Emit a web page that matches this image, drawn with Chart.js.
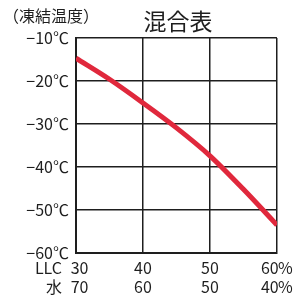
<!DOCTYPE html>
<html>
<head>
<meta charset="utf-8">
<script src="https://cdn.jsdelivr.net/npm/chart.js@4"></script>
<style>
  html, body { margin: 0; padding: 0; background: #fff; }
  #wrap { width: 298px; height: 297px; }
</style>
</head>
<body>
<div id="wrap"><canvas id="chart" width="298" height="297"></canvas></div>
<script>
// LLC concentration (%) and freezing temperature
const llcPercent = [30, 35, 40, 45, 50, 55, 60];
const freezeTemp = [-14.7, -19.6, -25.1, -30.9, -37.4, -45.2, -53.5];
const xTicks = [30, 40, 50, 60];
const yTicks = [-10, -20, -30, -40, -50, -60];

const FONT = '"Noto Sans CJK JP", "Noto Sans", sans-serif';
const INK = '#1e1e1e';

// extra text: title, unit label, row names and % signs
const labelsPlugin = {
    id: 'labels',
    afterDraw(chart) {
        const ctx = chart.ctx;
        const x = chart.scales.x;
        ctx.save();
        ctx.fillStyle = INK;
        ctx.textBaseline = 'middle';

        ctx.font = '16px ' + FONT;
        ctx.textAlign = 'left';
        ctx.fillText('（凍結温度）', 3, 16);

        ctx.font = '23px ' + FONT;
        ctx.textAlign = 'center';
        ctx.fillText('混合表', 178, 21);

        ctx.font = '16px ' + FONT;
        ctx.textAlign = 'right';
        ctx.fillText('LLC', 62, 268);
        ctx.fillText('水', 62, 287);

        ctx.textAlign = 'left';
        const px = x.getPixelForValue(60) + 1;
        ctx.fillText('%', px, 268);
        ctx.fillText('%', px, 287);
        ctx.restore();
    }
};

// nudge first / last x labels like the printed chart
const pad = (v, first, last) => (first ? '  ' + v : (last ? v + '    ' : '' + v));

new Chart(document.getElementById('chart'), {
    type: 'line',
    data: {
        datasets: [{
            data: llcPercent.map((v, i) => ({ x: v, y: freezeTemp[i] })),
            borderColor: '#e0283c',
            borderWidth: 5,
            pointRadius: 0,
            cubicInterpolationMode: 'monotone'
        }]
    },
    options: {
        responsive: false,
        animation: false,
        layout: { padding: { left: 0, top: 38, right: 14, bottom: 0 } },
        plugins: { legend: { display: false }, tooltip: { enabled: false } },
        scales: {
            x: {
                type: 'linear',
                min: 30,
                max: 60,
                afterBuildTicks: s => { s.ticks = xTicks.map(v => ({ value: v })); },
                afterFit: s => { s.height = 44; },
                grid: { color: INK, lineWidth: 1.5, drawTicks: false },
                border: { color: INK, width: 2 },
                ticks: {
                    padding: 5,
                    color: INK,
                    font: { family: FONT, size: 16, lineHeight: 1.2 },
                    maxRotation: 0,
                    callback: v => [pad(v, v === 30, v === 60), pad(100 - v, v === 30, v === 60)]
                }
            },
            y: {
                min: -60,
                max: -10,
                afterBuildTicks: s => { s.ticks = yTicks.map(v => ({ value: v })); },
                afterFit: s => { s.width = 76; },
                grid: { color: INK, lineWidth: 1.5, drawTicks: false },
                border: { color: INK, width: 2 },
                ticks: {
                    padding: 7,
                    color: INK,
                    font: { family: FONT, size: 16 },
                    callback: v => '−' + Math.abs(v) + '℃'
                }
            }
        }
    },
    plugins: [labelsPlugin]
});
</script>
</body>
</html>
